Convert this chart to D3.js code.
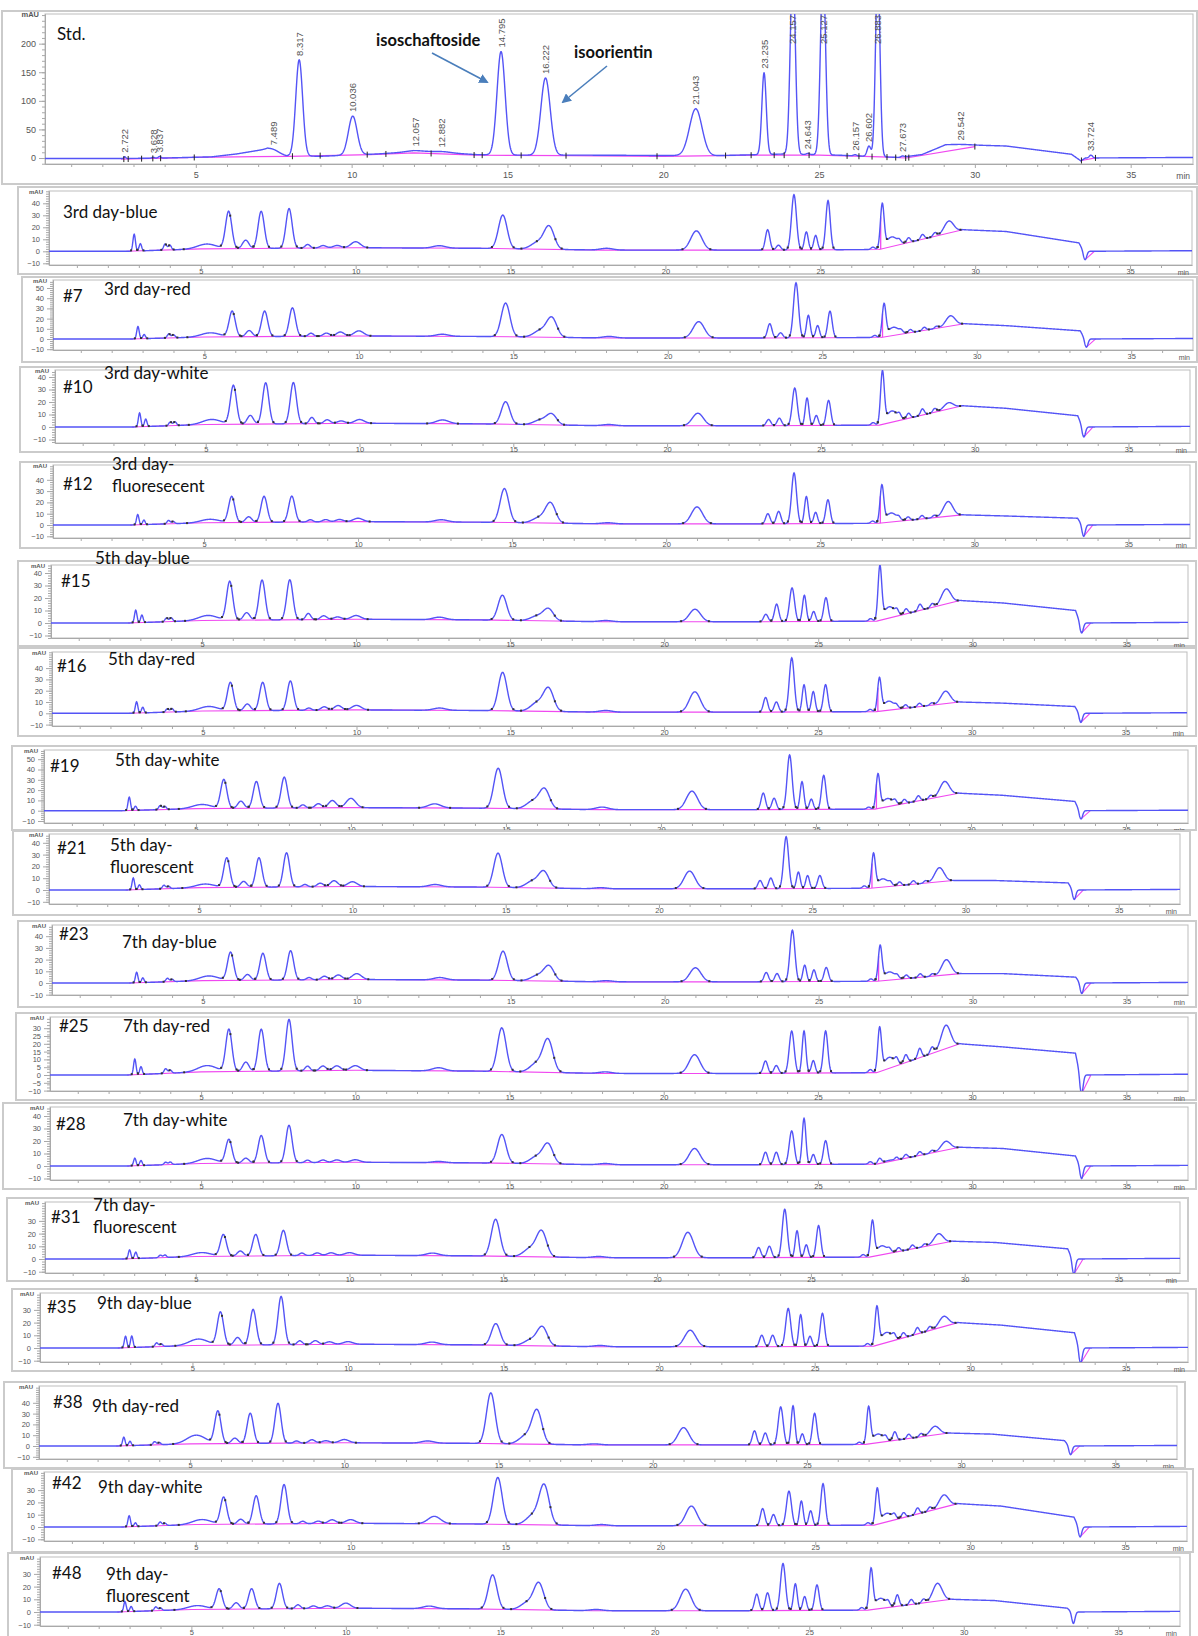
<!DOCTYPE html>
<html>
<head>
<meta charset="utf-8">
<script src="https://cdn.jsdelivr.net/npm/d3@7"></script>
<style>
  body { margin: 0; background: #fff; }
  svg { display: block; }
</style>
</head>
<body>
<div id="chart"></div>
<script>
// ---------- Std. chromatogram ----------
const stdRt     = [2.722, 3.628, 3.837, 7.489, 8.317, 10.036, 12.057, 12.882, 14.795, 16.222, 21.043, 23.235, 24.157, 24.643, 25.127, 26.157, 26.602, 26.883, 27.673, 29.542, 33.724];
const stdHeight = [3, 1.5, 3, 3, 168, 68, 2, 2, 181, 135, 82, 143, 330, 2, 330, 2, 18, 330, 2, 1, 5];
const stdSigma  = [0.03, 0.04, 0.04, 0.15, 0.11, 0.14, 0.3, 0.3, 0.13, 0.15, 0.2, 0.07, 0.08, 0.05, 0.08, 0.05, 0.06, 0.07, 0.05, 0.3, 0.05];
const stdDriftT = [0, 2.5, 4, 5.5, 6.3, 7.3, 7.9, 9, 10.8, 12, 13, 14, 15, 17.5, 21.6, 23.9, 25.6, 27.0, 27.6, 28.3, 29.06, 30.0, 31.0, 33.1, 33.4, 33.55, 37];
const stdDrift  = [-1, -1, 0, 2, 7, 16, 4, 3, 7, 11, 9, 6, 5, 5, 4, 7, 5, 2, 1, 6, 23, 22.5, 21, 6.5, -5, 0, 1];
const stdIntegT = [2.6, 5, 8, 10.6, 12, 14, 17, 20, 23, 25, 27, 27.8, 30.0];
const stdInteg  = [-2, 1, 3, 6, 9, 5, 4, 3, 5, 5, 2, 0, 20];
const stdMarks  = [2.69, 2.83, 3.26, 3.62, 3.87, 4.95, 8.1, 8.99, 10.5, 11.1, 12.55, 13.93, 14.19, 15.44, 16.88, 19.8, 22.0, 22.82, 23.56, 23.88, 24.68, 25.9, 26.28, 26.7, 27.18, 27.46, 27.78, 27.88, 30.0, 33.42, 33.87];
const stdYTicks = [0, 50, 100, 150, 200];

// ---------- samples ----------
const sampleIds   = ["", "#7", "#10", "#12", "#15", "#16", "#19", "#21", "#23", "#25", "#28", "#31", "#35", "#38", "#42", "#48"];
const sampleNames = [
  ["3rd day-blue"], ["3rd day-red"], ["3rd day-white"], ["3rd day-", "fluoresecent"],
  ["5th day-blue"], ["5th day-red"], ["5th day-white"], ["5th day-", "fluorescent"],
  ["7th day-blue"], ["7th day-red"], ["7th day-white"], ["7th day-", "fluorescent"],
  ["9th day-blue"], ["9th day-red"], ["9th day-white"], ["9th day-", "fluorescent"]
];
// common peaks (retention time, min) and their widths
const peakRt    = [2.85, 3.05, 3.85, 4.0, 5.2, 5.9, 6.45, 6.95, 7.85, 8.45, 8.95, 9.4, 10.0, 12.7, 14.75, 15.9, 16.25, 18.1, 21.0, 23.3, 23.65, 24.15, 24.55, 24.85, 25.25, 26.7, 27.0, 27.3, 27.55, 27.85, 28.3, 28.7, 29.15];
const peakSigma = [0.04, 0.04, 0.05, 0.05, 0.3, 0.1, 0.1, 0.1, 0.1, 0.08, 0.1, 0.12, 0.15, 0.2, 0.14, 0.22, 0.16, 0.2, 0.18, 0.07, 0.07, 0.08, 0.06, 0.06, 0.07, 0.06, 0.06, 0.18, 0.05, 0.06, 0.06, 0.06, 0.15];
// peak heights above the drift (mAU), one row per sample
const sampleHeights = [
  [14, 6, 5, 4, 4, 31, 7, 31, 33, 3, 2, 2, 5, 2, 28, 6, 18, 1.5, 16, 17, 4, 46, 15, 12, 41, 2, 36, 8, 2, 4, 4, 3, 10],
  [12, 4, 4, 3, 4, 25, 6, 25, 28, 3, 3, 4, 5, 2, 33, 7, 18, 1.5, 16, 14, 5, 54, 22, 12, 26, 2, 31, 8, 2, 3, 3, 2, 10],
  [11, 6, 3, 3, 4, 31, 7, 33, 33, 5, 3, 2, 3, 3, 18, 4, 8, 1, 10, 5, 6, 30, 22, 8, 20, 2, 41, 9, 3, 4, 5, 3, 5],
  [9, 4, 3, 2, 3, 23, 5, 23, 23, 2, 2, 2, 3, 2, 30, 5, 17, 1, 15, 9, 11, 45, 24, 10, 21, 2, 32, 8, 2, 3, 3, 2, 13],
  [10, 6, 3, 3, 4, 31, 6, 32, 32, 5, 3, 2, 3, 2, 20, 4, 9, 1, 10, 6, 14, 27, 21, 8, 19, 2, 42, 9, 3, 4, 5, 3, 12],
  [10, 5, 3, 3, 4, 25, 6, 25, 26, 2, 3, 4, 4, 2, 34, 8, 19, 1.5, 18, 13, 9, 48, 24, 18, 24, 2, 28, 8, 2, 3, 3, 2, 11],
  [13, 4, 4, 3, 4, 28, 7, 26, 30, 3, 4, 7, 9, 4, 39, 8, 18, 2.5, 18, 16, 11, 53, 27, 10, 33, 2, 32, 8, 3, 4, 5, 3, 14],
  [10, 4, 3, 2, 3, 25, 5, 25, 29, 2, 3, 5, 4, 2, 29, 6, 13, 1, 15, 7, 9, 44, 14, 11, 11, 2, 28, 7, 2, 3, 3, 2, 12],
  [9, 4, 3, 2, 4, 24, 5, 23, 25, 2, 3, 4, 5, 2, 25, 5, 12, 1, 12, 8, 7, 44, 14, 10, 12, 2, 29, 7, 2, 3, 3, 2, 13],
  [10, 5, 3, 2, 4, 27, 6, 27, 33, 3, 3, 3, 3, 2, 28, 6, 20, 1, 12, 8, 5, 27, 27, 8, 27, 2, 27, 7, 3, 5, 6, 4, 15],
  [6, 4, 2, 2, 4, 19, 4, 22, 30, 2, 2, 2, 2, 1, 23, 6, 15, 1, 13, 10, 10, 27, 37, 8, 19, 2, 4, 1, 2, 3, 3, 2, 7],
  [7, 5, 2, 2, 3, 17, 4, 17, 20, 2, 2, 2, 2, 2, 29, 7, 19, 1, 20, 8, 9, 38, 21, 10, 25, 2, 27, 7, 2, 3, 3, 2, 8],
  [9, 9, 3, 2, 5, 26, 6, 28, 38, 3, 3, 2, 2, 2, 17, 5, 14, 1, 13, 9, 9, 30, 25, 8, 26, 2, 29, 8, 3, 4, 5, 3, 8],
  [8, 4, 3, 2, 8, 30, 5, 28, 37, 2, 3, 2, 3, 2, 47, 8, 30, 1, 16, 13, 11, 35, 36, 10, 29, 2, 33, 8, 3, 8, 4, 3, 8],
  [9, 3, 3, 2, 4, 22, 4, 23, 32, 2, 2, 3, 3, 6, 38, 8, 31, 1, 16, 14, 9, 28, 20, 12, 34, 2, 28, 7, 3, 4, 5, 3, 10],
  [8, 4, 3, 2, 3, 16, 5, 16, 20, 3, 2, 2, 4, 2, 27, 6, 20, 1, 17, 13, 14, 37, 21, 11, 20, 2, 31, 8, 3, 9, 4, 3, 14]
];
// baseline drift of each trace
const driftT = [0, 2.6, 5, 10, 14, 18, 23, 26.9, 29.6, 31, 33.35, 33.5, 37];
const sampleDrift = [
  [0, 0, 2, 3, 2.5, 1, 1, 1.5, 18, 16.5, 7, 0, 0.5],
  [0, 0, 2, 3, 2.5, 1, 1, 1.5, 15, 13, 8, 0, 0.5],
  [0, 0, 2, 3, 2.5, 1, 1, 1.5, 17, 15, 9, 0, 0.5],
  [0, 0, 2, 3, 2.5, 1, 1, 1.5, 9, 8, 6, 0, 0.5],
  [0, 0, 2, 3, 2.5, 1, 1, 1.5, 18, 16, 10, 0, 0.5],
  [0, 0, 2, 3, 2.5, 1, 1, 1.5, 10, 9, 6, 0, 0.5],
  [0, 0, 2, 3, 2.5, 1, 1, 1.5, 17, 15, 9, 0, 0.5],
  [0, 0, 2, 3, 2.5, 1, 1, 1.5, 8, 8, 6, 0, 0.5],
  [0, 0, 2, 3, 2.5, 1, 1, 1.5, 8, 8, 5, 0, 0.5],
  [0, 0, 2, 3, 2.5, 1, 1, 1.5, 20, 18, 14, 0, 0.5],
  [0, 0, 2, 3, 2.5, 1, 1, 1.5, 15, 14, 8, 0, 0.5],
  [0, 0, 2, 3, 2.5, 1, 1, 1.5, 14, 13, 8, 0, 0.5],
  [0, 0, 2, 3, 2.5, 1, 1, 1.5, 20, 18, 12, 0, 0.5],
  [0, 0, 2, 3, 2.5, 1, 1, 1.5, 12, 11, 5, 0, 0.5],
  [0, 0, 2, 3, 2.5, 1, 1, 1.5, 19, 17, 8, 0, 0.5],
  [0, 0, 2, 3, 2.5, 1, 1, 1.5, 10, 9, 3, 0, 0.5]
];
const dipRt = 33.55;
const sampleDip = [-7, -8, -8, -10, -8, -8, -8, -8, -9, -12, -10, -12, -12, -8, -8, -9];
const sampleDrops = [[24.35, 24.7, 26.95], [24.35, 26.95], [], [26.95], [], [26.95], [26.95], [26.95], [26.95], [24.35, 24.7], [24.35], [], [24.35, 24.7], [], [24.35], []];
const sampleYStep = [10, 10, 10, 10, 10, 10, 10, 10, 10, 5, 10, 10, 10, 10, 10, 10];

// ---------- layout (pixel positions) ----------
const W = 1198, H = 1636;
const stdLayout = { frame: [2, 11, 1197, 184], plot: [45, 14, 1193, 164], zero: 158, ppu: 0.5717, xDom: [0.16, 37.0] };
const sampleLayout = [
  { frame: [18, 187, 1197, 274], plot: [49, 191, 1192, 265], zero: 251.3, ppu: 1.2, id: null, name: [63, 218] },
  { frame: [22, 277, 1197, 362], plot: [53, 280, 1193, 350], zero: 339, ppu: 1.02, id: [63, 302], name: [104, 295] },
  { frame: [20, 367, 1196, 452], plot: [55, 370, 1190, 443], zero: 427, ppu: 1.25, id: [63, 393], name: [104, 379] },
  { frame: [20, 462, 1196, 548], plot: [53, 465, 1190, 538], zero: 525, ppu: 1.13, id: [63, 490], name: [112, 470] },
  { frame: [18, 561, 1196, 646], plot: [51, 565, 1188, 638], zero: 623, ppu: 1.25, id: [61, 587], name: [95, 564] },
  { frame: [18, 648, 1196, 736], plot: [52, 652, 1187, 726], zero: 713.3, ppu: 1.13, id: [57, 672], name: [108, 665] },
  { frame: [12, 746, 1196, 830], plot: [44, 750, 1188, 823], zero: 810.7, ppu: 1.03, id: [50, 772], name: [115, 766] },
  { frame: [13, 831, 1190, 915], plot: [49, 834, 1180, 904], zero: 890, ppu: 1.18, id: [57, 854], name: [110, 851] },
  { frame: [18, 921, 1196, 1007], plot: [52, 925, 1188, 995], zero: 983, ppu: 1.17, id: [59, 940], name: [122, 948] },
  { frame: [16, 1013, 1196, 1100], plot: [50, 1017, 1188, 1091], zero: 1075, ppu: 1.56, id: [59, 1032], name: [123, 1032] },
  { frame: [3, 1103, 1196, 1189], plot: [50, 1107, 1188, 1180], zero: 1166, ppu: 1.25, id: [56, 1130], name: [123, 1126] },
  { frame: [7, 1198, 1188, 1281], plot: [45, 1202, 1180, 1273], zero: 1259, ppu: 1.27, id: [51, 1223], name: [93, 1211] },
  { frame: [12, 1289, 1196, 1371], plot: [40, 1293, 1188, 1362], zero: 1348, ppu: 1.27, id: [47, 1313], name: [97, 1309] },
  { frame: [4, 1382, 1185, 1468], plot: [39, 1386, 1177, 1459], zero: 1446, ppu: 1.08, id: [53, 1408], name: [92, 1412] },
  { frame: [12, 1469, 1193, 1552], plot: [44, 1472, 1187, 1541], zero: 1527, ppu: 1.23, id: [52, 1489], name: [98, 1493] },
  { frame: [8, 1553, 1190, 1640], plot: [40, 1557, 1180, 1626], zero: 1612, ppu: 1.27, id: [52, 1579], name: [106, 1580] }
];
const sampleXDom = [0.1, 37.0];

const BLUE = "#5454f6", PINK = "#f048f0", GRID = "#a9a9a9";
const labelFont = "Lato, 'Open Sans', sans-serif";

const svg = d3.select("#chart").append("svg")
  .attr("width", W).attr("height", H)
  .style("font-family", "Arial, 'Liberation Sans', sans-serif");

const defs = svg.append("defs");
defs.append("marker").attr("id", "arr").attr("viewBox", "0 0 10 10")
  .attr("refX", 8).attr("refY", 5).attr("markerWidth", 6).attr("markerHeight", 6)
  .attr("orient", "auto")
  .append("path").attr("d", "M0,0 L10,5 L0,10 z").attr("fill", "#4a7ebb");

// trace = drift + gaussian peaks, sampled along the time axis
function makeTrace(t0, t1, drift, rts, hs, sig) {
  const pts = [];
  for (let t = t0; t <= t1 + 1e-9; t += 0.01) {
    pts.push([t, valueAt(t, drift, rts, hs, sig)]);
  }
  return pts;
}
function valueAt(t, drift, rts, hs, sig) {
  let v = drift(t);
  for (let i = 0; i < rts.length; i++) {
    const d = (t - rts[i]) / sig[i];
    if (Math.abs(d) < 6) v += hs[i] * Math.exp(-0.5 * d * d);
  }
  return v;
}

function drawAxes(g, L, yDom, yMajor, yMinor, xDom, fs, pad, clipId) {
  const f = L.frame, p = L.plot;
  g.append("rect").attr("x", f[0]).attr("y", f[1])
    .attr("width", f[2] - f[0]).attr("height", f[3] - f[1])
    .attr("fill", "#fff").attr("stroke", "#cbcbcb").attr("stroke-width", 2);
  g.append("rect").attr("x", p[0]).attr("y", p[1])
    .attr("width", p[2] - p[0]).attr("height", p[3] - p[1])
    .attr("fill", "#fff").attr("stroke", "#bdbdbd").attr("stroke-width", 1);
  defs.append("clipPath").attr("id", clipId).append("rect")
    .attr("x", p[0]).attr("y", p[1]).attr("width", p[2] - p[0]).attr("height", p[3] - p[1]);

  const x = d3.scaleLinear().domain(xDom).range([p[0], p[2]]);
  const y = d3.scaleLinear().domain(yDom).range([p[3], p[1]]);

  const gx = g.append("g").attr("transform", `translate(0,${p[3]})`)
    .call(d3.axisBottom(x).tickValues(d3.range(1, 37)).tickSize(3).tickSizeOuter(0).tickPadding(pad)
      .tickFormat(d => d % 5 === 0 ? d : ""));
  gx.selectAll(".tick line").attr("y2", d => d % 5 === 0 ? 4 : 3);

  // keep major labels clear of the "mAU" caption
  const majors = yMajor.filter(v => y(v) > p[1] + 6.5);
  const gyMinor = g.append("g").attr("transform", `translate(${p[0]},0)`)
    .call(d3.axisLeft(y).tickValues(yMinor).tickSize(3).tickSizeOuter(0).tickFormat(""));
  const gy = g.append("g").attr("transform", `translate(${p[0]},0)`)
    .call(d3.axisLeft(y).tickValues(majors).tickSize(6).tickSizeOuter(0).tickPadding(3));

  [gx, gy, gyMinor].forEach(a => {
    a.select(".domain").attr("stroke", GRID);
    a.selectAll(".tick line").attr("stroke", GRID);
    a.selectAll(".tick text").attr("fill", "#555").style("font-size", fs + "px")
      .style("font-family", "Arial, 'Liberation Sans', sans-serif");
  });

  g.append("text").attr("x", p[0] - 6).attr("y", p[1] + 3)
    .attr("text-anchor", "end").attr("fill", "#555")
    .style("font-size", (fs - 1.5) + "px").style("font-weight", "bold").text("mAU");
  g.append("text").attr("x", p[2] - 3).attr("y", p[3] + pad + fs + 1)
    .attr("text-anchor", "end").attr("fill", "#555")
    .style("font-size", (fs - 0.5) + "px").text("min");
  return { x, y };
}

// ---------- Std panel ----------
(function drawStd() {
  const L = stdLayout, p = L.plot;
  const yDom = [(L.zero - p[3]) / L.ppu, (L.zero - p[1]) / L.ppu];
  const g = svg.append("g");
  const minor = d3.range(-10, 251, 10);
  const { x, y } = drawAxes(g, L, yDom, stdYTicks, minor, L.xDom, 9, 5, "clip-std");

  const drift = d3.scaleLinear().domain(stdDriftT).range(stdDrift).clamp(true);
  const trace = makeTrace(L.xDom[0], L.xDom[1], drift, stdRt, stdHeight, stdSigma);
  const integ = d3.scaleLinear().domain(stdIntegT).range(stdInteg).clamp(true);
  const line = d3.line().x(d => x(d[0])).y(d => y(d[1]));

  const pg = g.append("g").attr("clip-path", "url(#clip-std)");
  pg.append("path").datum(stdIntegT.map((t, i) => [t, stdInteg[i]]))
    .attr("fill", "none").attr("stroke", PINK).attr("stroke-width", 1.2).attr("d", line);
  pg.append("path").datum([[33.42, valueAt(33.42, drift, stdRt, stdHeight, stdSigma)], [33.87, valueAt(33.87, drift, stdRt, stdHeight, stdSigma)]])
    .attr("fill", "none").attr("stroke", PINK).attr("stroke-width", 1.2).attr("d", line);
  pg.append("path").datum(trace)
    .attr("fill", "none").attr("stroke", BLUE).attr("stroke-width", 1.4).attr("d", line);

  // integration marks
  pg.selectAll(".mk").data(stdMarks).enter().append("line")
    .attr("x1", d => x(d)).attr("x2", d => x(d))
    .attr("y1", d => y(d <= 30 ? integ(d) : valueAt(d, drift, stdRt, stdHeight, stdSigma)) - 3)
    .attr("y2", d => y(d <= 30 ? integ(d) : valueAt(d, drift, stdRt, stdHeight, stdSigma)) + 3)
    .attr("stroke", "#222").attr("stroke-width", 1);

  // retention time labels
  const fmt = d3.format(".3f");
  stdRt.forEach((rt, i) => {
    const apex = valueAt(rt, drift, stdRt, stdHeight, stdSigma);
    const off = apex > yDom[1] - 5;
    const ty = off ? p[1] + 1 : y(apex) - 4;
    g.append("text")
      .attr("transform", `translate(${x(rt) + 3.5},${ty}) rotate(-90)`)
      .attr("text-anchor", off ? "end" : "start")
      .attr("fill", "#555").style("font-size", "9.5px")
      .text(fmt(rt));
  });

  g.append("text").attr("x", 57).attr("y", 40)
    .style("font-family", labelFont).style("font-size", "17px").attr("fill", "#111").text("Std.");
  g.append("text").attr("x", 376).attr("y", 46)
    .style("font-family", labelFont).style("font-size", "16.5px").style("font-weight", "bold")
    .attr("fill", "#111").text("isoschaftoside");
  g.append("text").attr("x", 574).attr("y", 58)
    .style("font-family", labelFont).style("font-size", "16.5px").style("font-weight", "bold")
    .attr("fill", "#111").text("isoorientin");
  g.append("line").attr("x1", 432).attr("y1", 53).attr("x2", 487).attr("y2", 82)
    .attr("stroke", "#4a7ebb").attr("stroke-width", 1.6).attr("marker-end", "url(#arr)");
  g.append("line").attr("x1", 607).attr("y1", 66).attr("x2", 563).attr("y2", 102)
    .attr("stroke", "#4a7ebb").attr("stroke-width", 1.6).attr("marker-end", "url(#arr)");
})();

// ---------- sample panels ----------
sampleLayout.forEach((L, si) => {
  const p = L.plot;
  const yDom = [(L.zero - p[3]) / L.ppu, (L.zero - p[1]) / L.ppu];
  const step = sampleYStep[si];
  const major = d3.range(-10, yDom[1] - 1.5, step);
  const minor = d3.range(-12, yDom[1], 2).filter(v => v >= yDom[0]);
  const g = svg.append("g");
  const clipId = "clip-s" + si;
  const { x, y } = drawAxes(g, L, yDom, major, minor, sampleXDom, 7.5, 1, clipId);

  const drift = d3.scaleLinear().domain(driftT).range(sampleDrift[si]).clamp(true);
  const rts = peakRt.concat([dipRt]);
  const hs = sampleHeights[si].concat([sampleDip[si]]);
  const sig = peakSigma.concat([0.05]);
  const trace = makeTrace(sampleXDom[0], sampleXDom[1], drift, rts, hs, sig);
  const line = d3.line().x(d => x(d[0])).y(d => y(d[1]));

  const pg = g.append("g").attr("clip-path", `url(#${clipId})`);
  const integPts = driftT.map((t, i) => [t, sampleDrift[si][i]]).filter(d => d[0] >= 2.6 && d[0] <= 29.6);
  pg.append("path").datum(integPts)
    .attr("fill", "none").attr("stroke", PINK).attr("stroke-width", 1.1).attr("d", line);
  if (si !== 15) {
    pg.append("path").datum([[dipRt, valueAt(dipRt, drift, rts, hs, sig)], [33.85, valueAt(33.85, drift, rts, hs, sig)]])
      .attr("fill", "none").attr("stroke", PINK).attr("stroke-width", 1.1).attr("d", line);
  }
  sampleDrops[si].forEach(t => {
    pg.append("line").attr("x1", x(t)).attr("x2", x(t))
      .attr("y1", y(drift(t))).attr("y2", y(valueAt(t, drift, rts, hs, sig)))
      .attr("stroke", PINK).attr("stroke-width", 1.3);
  });
  pg.append("path").datum(trace)
    .attr("fill", "none").attr("stroke", BLUE).attr("stroke-width", 1.4).attr("d", line);

  // integration points
  const marks = [];
  peakRt.forEach((rt, i) => {
    if (sampleHeights[si][i] >= 3 && rt > 2.6 && rt < 29.6) {
      marks.push(rt - 2.5 * peakSigma[i], rt + 2.5 * peakSigma[i]);
    }
  });
  pg.selectAll(".mk").data(marks).enter().append("rect")
    .attr("x", d => x(d) - 1).attr("y", d => y(valueAt(d, drift, rts, hs, sig)) - 1)
    .attr("width", 2).attr("height", 2).attr("fill", "#333");

  if (L.id) {
    g.append("text").attr("x", L.id[0]).attr("y", L.id[1])
      .style("font-family", labelFont).style("font-size", "17px").attr("fill", "#111").text(sampleIds[si]);
  }
  const t = g.append("text").attr("x", L.name[0]).attr("y", L.name[1])
    .style("font-family", labelFont).style("font-size", "17px").attr("fill", "#111");
  sampleNames[si].forEach((s, k) => {
    t.append("tspan").attr("x", L.name[0]).attr("dy", k === 0 ? 0 : 22).text(s);
  });
});
</script>
</body>
</html>
